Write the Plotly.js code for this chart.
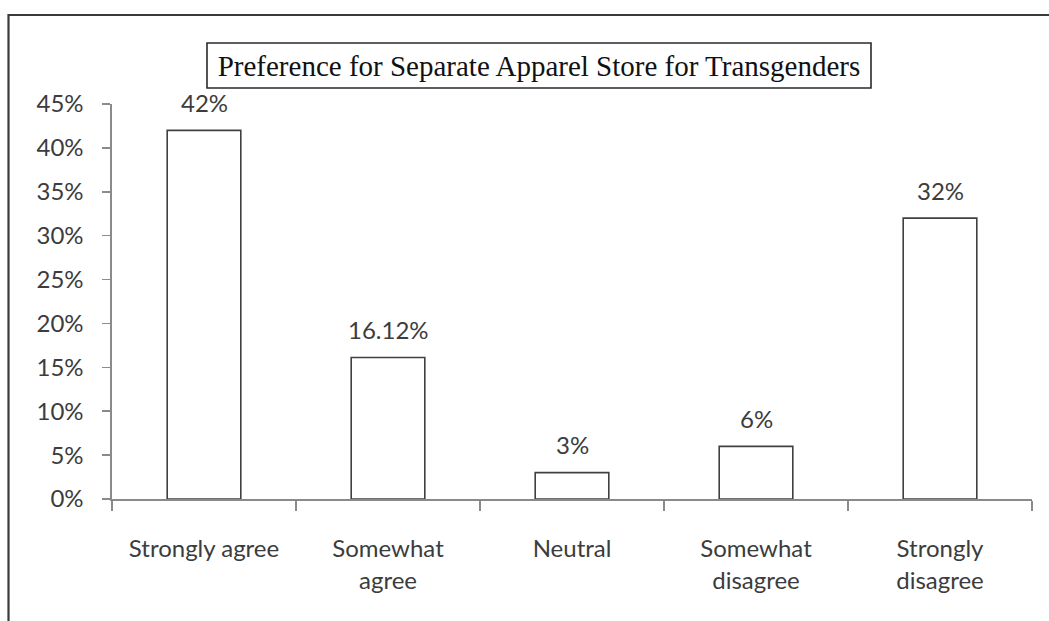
<!DOCTYPE html>
<html>
<head>
<meta charset="utf-8">
<script src="https://cdn.plot.ly/plotly-3.0.1.min.js"></script>
<style>
  html, body { margin: 0; padding: 0; background: #ffffff; }
  #chart { width: 1049px; height: 621px; }
</style>
</head>
<body>
<div id="chart"></div>
<script>
// Survey responses: preference for a separate apparel store
const categories = [
  'Strongly agree',
  'Somewhat<br>agree',
  'Neutral',
  'Somewhat<br>disagree',
  'Strongly<br>disagree'
];
const shares = [42, 16.12, 3, 6, 32];
const shareLabels = ['42%', '16.12%', '3%', '6%', '32%'];
const tickValues = [0, 5, 10, 15, 20, 25, 30, 35, 40, 45];
const tickLabels = ['0%', '5%', '10%', '15%', '20%', '25%', '30%', '35%', '40%', '45%'];

const labelFont = { family: 'Lato, "Open Sans", sans-serif', size: 24, color: '#3c3c3c' };

const trace = {
  type: 'bar',
  x: categories,
  y: shares,
  marker: { color: '#ffffff', line: { color: '#404040', width: 1.6 } },
  hoverinfo: 'skip'
};

// value labels sit just above each bar
const valueNotes = categories.map((c, i) => ({
  x: c, y: shares[i], xref: 'x', yref: 'y',
  text: shareLabels[i], showarrow: false,
  yanchor: 'middle', yshift: 28,
  font: labelFont
}));

const layout = {
  width: 1049,
  height: 621,
  margin: { l: 112, r: 17, t: 104, b: 122 },
  paper_bgcolor: '#ffffff',
  plot_bgcolor: '#ffffff',
  showlegend: false,
  bargap: 0.6,
  title: {
    text: 'Preference for Separate Apparel Store for Transgenders',
    font: { family: '"Liberation Serif", "DejaVu Serif", serif', size: 29, color: '#111111' },
    x: 539 / 1049, xanchor: 'center', xref: 'container',
    y: 1 - 66 / 621, yanchor: 'middle', yref: 'container'
  },
  xaxis: {
    type: 'category',
    showline: true, linecolor: '#8a8a8a', linewidth: 1.6,
    ticks: 'outside', ticklen: 10, tickcolor: '#8a8a8a', tickwidth: 1.6,
    tickson: 'boundaries',
    ticklabelstandoff: 28,
    tickfont: labelFont,
    showgrid: false, zeroline: false, fixedrange: true
  },
  yaxis: {
    range: [0, 45],
    tickvals: tickValues, ticktext: tickLabels,
    showline: true, linecolor: '#8a8a8a', linewidth: 1.6,
    ticks: 'outside', ticklen: 8, tickcolor: '#8a8a8a', tickwidth: 1.6,
    ticklabelstandoff: 14,
    tickfont: labelFont,
    showgrid: false, zeroline: false, fixedrange: true
  },
  annotations: valueNotes,
  shapes: [
    // outer frame of the chart area
    { type: 'rect', xref: 'paper', yref: 'paper',
      x0: -0.1125, x1: 1.04, y0: -0.36, y1: 1.2253,
      line: { color: '#3a3a3a', width: 2.2 }, fillcolor: 'rgba(0,0,0,0)', layer: 'above' },
    // box around the title
    { type: 'rect', xref: 'paper', yref: 'paper',
      x0: (207 - 112) / 920, x1: (871 - 112) / 920,
      y0: (499 - 88) / 395, y1: (499 - 43) / 395,
      line: { color: '#2a2a2a', width: 1.6 }, fillcolor: 'rgba(0,0,0,0)', layer: 'above' }
  ]
};

Plotly.newPlot('chart', [trace], layout, { displayModeBar: false, staticPlot: true });
</script>
</body>
</html>
